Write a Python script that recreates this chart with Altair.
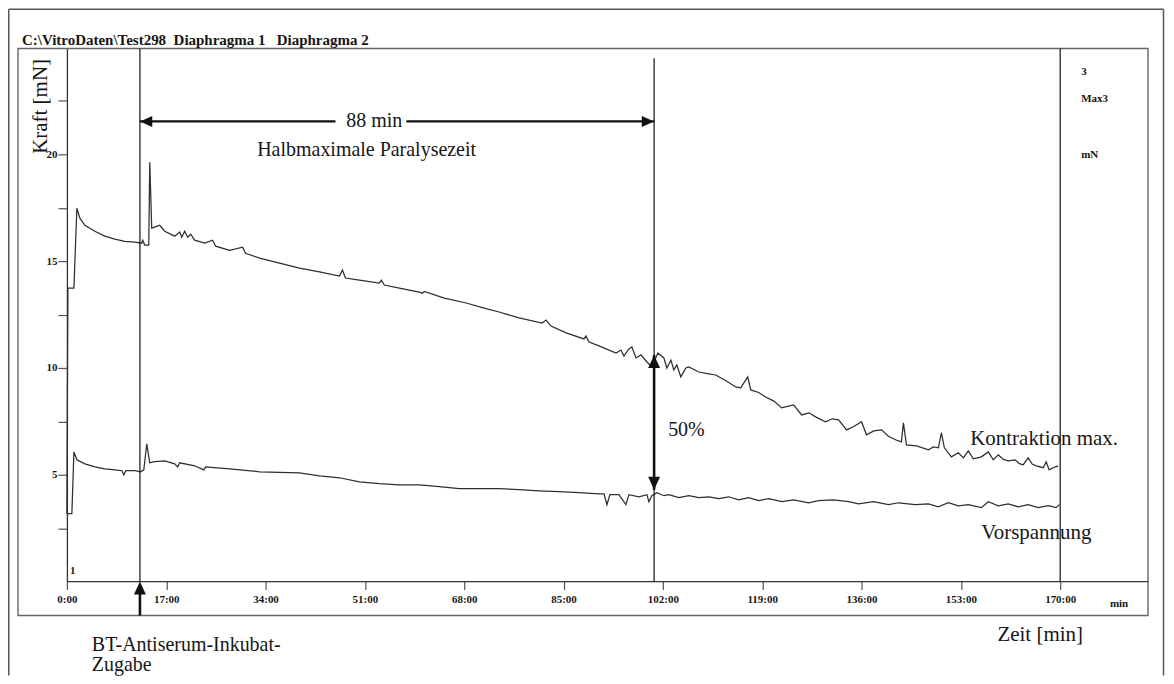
import altair as alt
import pandas as pd

FONT = "Liberation Serif"
INK = "#161616"
TRACE = "#2e2e2e"
FRAME = "#555555"

# ---------------- data (time in minutes, force in mN) ----------------
upper_t = [0.0, 0.17, 1.2, 1.71, 2.22, 3.08, 4.78, 6.49, 8.2, 9.91, 11.62, 12.81, 12.98, 13.33, 14.01,
           14.18, 14.52, 15.03, 15.89, 16.74, 18.45, 19.31, 19.65, 20.16, 20.67, 21.19, 21.87, 23.58,
           24.94, 25.46, 27.85, 30.07, 30.58, 32.97, 36.39, 39.81, 43.23, 46.64, 47.16, 47.67, 50.06,
           53.48, 53.82, 54.33, 56.89, 60.31, 60.82, 61.17, 64.58, 68.34, 71.42, 73.98, 77.4, 81.33,
           82.01, 82.86, 85.43, 88.5, 88.84, 89.36, 91.07, 93.97, 94.82, 95.34, 96.19, 96.7, 97.39,
           98.24, 99.27, 100.12, 101.15, 102.17, 102.68, 103.37, 103.88, 104.39, 105.07, 105.93,
           106.44, 108.15, 109.86, 111.05, 112.8, 114.47, 115.33, 116.52, 117.04, 118.4, 119.6, 121.0,
           122.33, 124.38, 125.75, 127.0, 128.14, 129.85, 131.0, 132.07, 133.44, 134.6, 136.0, 136.85,
           138.1, 139.42, 140.6, 141.81, 142.83, 143.17, 143.69, 145.4, 147.45, 148.3, 149.15, 149.67,
           150.18, 151.38, 152.57, 153.43, 154.28, 155.13, 156.5, 157.7, 158.55, 159.41, 160.3, 161.11,
           162.31, 163.0, 163.68, 164.53, 165.2, 165.9, 167.1, 167.61, 168.12, 168.8, 169.66]
upper_v = [3.18, 13.74, 13.74, 17.48, 17.01, 16.68, 16.40, 16.17, 16.03, 15.93, 15.89, 15.84, 15.98, 15.75, 15.75,
           19.63, 16.54, 16.59, 16.68, 16.40, 16.17, 16.36, 16.12, 16.40, 16.12, 16.26, 15.98, 15.84,
           15.98, 15.70, 15.51, 15.65, 15.37, 15.14, 14.91, 14.67, 14.50, 14.30, 14.58, 14.21, 14.11,
           13.97, 14.11, 13.88, 13.74, 13.55, 13.50, 13.58, 13.27, 13.04, 12.80, 12.62, 12.34, 12.10,
           12.24, 11.96, 11.64, 11.36, 11.50, 11.21, 11.03, 10.70, 10.84, 10.56, 10.89, 10.98, 10.47,
           10.61, 10.28, 10.05, 10.70, 10.47, 10.00, 10.37, 9.91, 10.14, 9.58, 10.00,
           10.05, 9.81, 9.72, 9.67, 9.40, 9.11, 9.07, 9.58, 8.97, 8.85, 8.64, 8.45,
           8.13, 8.27, 7.80, 7.90, 7.71, 7.48, 7.62, 7.57, 7.10, 7.25, 7.48, 6.87,
           7.05, 7.10, 6.80, 6.64, 6.54, 7.43, 6.40, 6.35, 6.17, 6.30, 6.26, 6.96,
           6.26, 5.84, 6.03, 5.79, 6.12, 5.75, 5.84, 6.07, 5.70, 5.93, 5.72, 5.65,
           5.70, 5.52, 5.47, 5.79, 5.50, 5.42, 5.33, 5.61, 5.23, 5.33, 5.42]

lower_t = [0.0, 0.85, 1.2, 1.71, 3.08, 4.78, 6.49, 8.2, 9.4, 9.74, 10.08, 11.62, 12.64, 13.16, 13.67,
           14.18, 15.03, 16.74, 18.45, 18.96, 19.31, 21.87, 23.41, 23.75, 27.85, 32.97, 39.81, 43.23,
           46.64, 50.06, 53.48, 56.89, 60.31, 63.73, 67.15, 70.56, 73.98, 77.4, 80.81, 84.23, 87.65,
           91.07, 91.92, 92.43, 92.94, 94.48, 95.68, 96.19, 97.9, 99.27, 99.61, 100.12, 100.97, 102.17,
           103.02, 104.73, 106.44, 108.15, 109.86, 111.57, 113.28, 114.98, 116.69, 118.4, 120.11,
           122.33, 124.38, 126.94, 128.65, 131.21, 133.78, 135.49, 138.05, 140.61, 142.32, 145.22,
           147.45, 149.15, 150.86, 152.57, 154.28, 156.5, 157.7, 159.41, 161.11, 162.82, 164.53,
           166.24, 167.95, 169.31, 169.83]
lower_v = [3.18, 3.18, 6.07, 5.70, 5.51, 5.37, 5.28, 5.23, 5.19, 5.00, 5.19, 5.19, 5.14, 5.23, 6.45,
           5.56, 5.61, 5.65, 5.51, 5.37, 5.56, 5.42, 5.23, 5.37, 5.28, 5.14, 5.09, 4.95,
           4.86, 4.67, 4.58, 4.53, 4.53, 4.44, 4.35, 4.35, 4.35, 4.30, 4.25, 4.21, 4.16,
           4.11, 4.11, 3.60, 4.07, 4.07, 3.60, 4.07, 3.97, 4.07, 3.74, 4.02, 4.16, 4.02,
           4.07, 3.93, 4.02, 3.93, 3.97, 3.88, 3.97, 3.83, 3.93, 3.79, 3.88,
           3.74, 3.83, 3.69, 3.79, 3.83, 3.74, 3.64, 3.74, 3.60, 3.69, 3.60,
           3.64, 3.50, 3.69, 3.55, 3.60, 3.46, 3.74, 3.55, 3.64, 3.50, 3.60,
           3.46, 3.55, 3.46, 3.60]

x_ticks = [0, 17, 34, 51, 68, 85, 102, 119, 136, 153, 170]
y_ticks = [2.5, 5, 7.5, 10, 12.5, 15, 17.5, 20, 22.5]

t_addition = 12.5     # BT-Antiserum-Inkubat-Zugabe
t_half = 100.5        # half-maximal paralysis (88 min later)
arrow_v = 21.54
half_top, half_bottom = 10.6, 4.3
gap_from, gap_to = 45.96, 58.09

# ---------------- layout ----------------
W, H = 995, 535
PAD = {"left": 59, "top": 39, "right": 106, "bottom": 94}

xs = alt.Scale(domain=[0, 170], nice=False, zero=False)
ys = alt.Scale(domain=[0, 25], nice=False, zero=False)

one = pd.DataFrame({"a": [0]})

df = pd.concat([
    pd.DataFrame({"t": upper_t, "v": upper_v, "s": "Kontraktion max.", "o": range(len(upper_t))}),
    pd.DataFrame({"t": lower_t, "v": lower_v, "s": "Vorspannung", "o": range(len(lower_t))}),
])

lines = alt.Chart(df).mark_line(color=TRACE, strokeWidth=1.25).encode(
    x=alt.X("t:Q", scale=xs, axis=alt.Axis(
        values=x_ticks, labelExpr="datum.value + ':00'", domain=False, grid=False,
        tickSize=8, tickColor=FRAME, tickWidth=1.2, labelPadding=4, labelFont=FONT,
        labelFontWeight="bold", labelFontSize=11, labelColor=INK, labelFlush=False,
        labelOverlap=False, title=None)),
    y=alt.Y("v:Q", scale=ys, axis=alt.Axis(
        values=y_ticks, labelExpr="datum.value % 5 == 0 ? datum.value : ''", grid=False,
        domain=True, domainColor="#333333", domainWidth=1.3, tickSize=9, tickColor=FRAME,
        tickWidth=1.2, labelPadding=1, labelFont=FONT, labelFontWeight="bold",
        labelFontSize=11, labelColor=INK, labelFlush=False, labelOverlap=False, title=None)),
    detail="s:N",
    order="o:Q",
)


def prule(x=None, x2=None, y=None, y2=None, w=1.5, c=FRAME):
    enc = {}
    for k, val in (("x", x), ("x2", x2), ("y", y), ("y2", y2)):
        if val is not None:
            enc[k] = alt.value(val)
    return alt.Chart(one).mark_rule(color=c, strokeWidth=w).encode(**enc)


def ptext(s, x, y, size=20, weight="normal", align="left", angle=None):
    kw = dict(font=FONT, fontSize=size, fontWeight=weight, align=align,
              baseline="middle", color=INK)
    if angle is not None:
        kw["angle"] = angle
    return alt.Chart(pd.DataFrame({"label": [s]})).mark_text(**kw).encode(
        x=alt.value(x), y=alt.value(y), text="label:N")


def dtext(s, t, v, size=20, align="left"):
    return alt.Chart(pd.DataFrame({"label": [s], "t": [t], "v": [v]})).mark_text(
        font=FONT, fontSize=size, align=align, baseline="middle", color=INK).encode(
        x=alt.X("t:Q", scale=xs), y=alt.Y("v:Q", scale=ys), text="label:N")


# frames
outer = [
    prule(x=-58.25, y=-38.25, y2=629),
    prule(x=1098.5, y=-38.25, y2=629),
    prule(x=-58.25, x2=1098.5, y=-38.25),
]
inner = alt.Chart(one).mark_rect(fillOpacity=0, stroke="#666666", strokeWidth=1.4).encode(
    x=alt.value(-49), x2=alt.value(1083), y=alt.value(1), y2=alt.value(569))
xaxis_line = prule(x=0, x2=1083, y=535, w=1.3, c="#333333")

# vertical markers
vdf = pd.DataFrame({"t": [t_addition, 170.0]})
vlines_full = alt.Chart(vdf).mark_rule(color="#111111", strokeWidth=1.2).encode(
    x=alt.X("t:Q", scale=xs), y=alt.value(1), y2=alt.value(535))
add_shaft = alt.Chart(pd.DataFrame({"t": [t_addition]})).mark_rule(
    color="#111111", strokeWidth=2.6).encode(
    x=alt.X("t:Q", scale=xs), y=alt.value(540), y2=alt.value(569))
half_line = alt.Chart(pd.DataFrame({"t": [t_half], "v": [24.5], "v2": [0.0]})).mark_rule(
    color="#111111", strokeWidth=1.2).encode(
    x=alt.X("t:Q", scale=xs), y=alt.Y("v:Q", scale=ys), y2="v2:Q")
half_shaft = alt.Chart(pd.DataFrame({"t": [t_half], "v": [half_top], "v2": [half_bottom]})).mark_rule(
    color="#111111", strokeWidth=2.6).encode(
    x=alt.X("t:Q", scale=xs), y=alt.Y("v:Q", scale=ys), y2="v2:Q")

# horizontal double arrow "88 min"
hdf = pd.DataFrame({"t": [t_addition, gap_to], "t2": [gap_from, t_half], "v": [arrow_v, arrow_v]})
harrow = alt.Chart(hdf).mark_rule(color="#111111", strokeWidth=2.2).encode(
    x=alt.X("t:Q", scale=xs), x2="t2:Q", y=alt.Y("v:Q", scale=ys))


def head(shape, t, v):
    return alt.Chart(pd.DataFrame({"t": [t], "v": [v]})).mark_point(
        shape=shape, filled=True, size=676, color="#111111", opacity=1, strokeWidth=0).encode(
        x=alt.X("t:Q", scale=xs), y=alt.Y("v:Q", scale=ys))


LEFT = "M0,0L0.95,-0.42L0.95,0.42Z"
RIGHT = "M0,0L-0.95,-0.42L-0.95,0.42Z"
UP = "M0,0L-0.46,1L0.46,1Z"
DOWN = "M0,0L-0.46,-1L0.46,-1Z"

heads = [
    head(LEFT, t_addition, arrow_v),
    head(RIGHT, t_half, arrow_v),
    head(UP, t_addition, 0.0),
    head(UP, t_half, half_top),
    head(DOWN, t_half, half_bottom),
]

texts = [
    ptext("C:\\VitroDaten\\Test298\u00a0\u00a0Diaphragma 1\u00a0\u00a0\u00a0Diaphragma 2",
          -45, -8, size=15, weight="bold"),
    ptext("Kraft [mN]", -26, 59, size=21, align="center", angle=270),
    ptext("BT-Antiserum-Inkubat-", 25, 599, size=20),
    ptext("Zugabe", 25, 619, size=20),
    ptext("Zeit [min]", 975, 589, size=21, align="center"),
    ptext("3", 1016, 25, size=11, weight="bold"),
    ptext("Max3", 1016, 52, size=11, weight="bold"),
    ptext("mN", 1016, 108, size=11, weight="bold"),
    ptext("min", 1054, 557, size=11, weight="bold", align="center"),
    ptext("1", 3, 524, size=11, weight="bold"),
    dtext("88 min", 52.6, arrow_v, size=20, align="center"),
    dtext("Halbmaximale Paralysezeit", 51.3, 20.19, size=20, align="center"),
    dtext("50%", 102.9, 7.1, size=20),
    dtext("Kontraktion max.", 154.6, 6.68, size=21),
    dtext("Vorspannung", 156.5, 2.29, size=21),
]

chart = alt.layer(
    *outer, inner, xaxis_line, lines, vlines_full, add_shaft, half_line, half_shaft,
    harrow, *heads, *texts
).properties(
    width=W, height=H, padding=PAD,
    autosize=alt.AutoSizeParams(type="none"),
    background="white",
).configure_view(stroke=None)

chart.save("out.html", embed_options={"renderer": "svg", "actions": False})
